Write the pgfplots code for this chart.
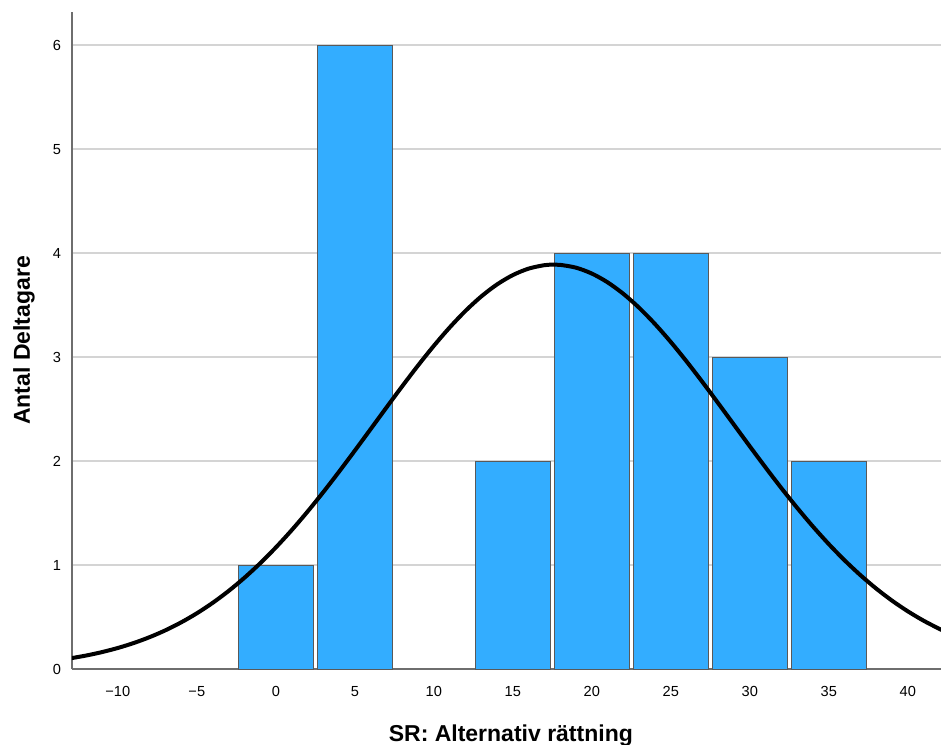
\documentclass[border=0pt]{standalone}
\usepackage{fontspec}
\setmainfont{Liberation Sans}
\usepackage{pgfplots}
\pgfplotsset{compat=1.18}
\definecolor{barblue}{RGB}{51,173,255}
\definecolor{gridgray}{RGB}{212,212,212}
\definecolor{axisgray}{RGB}{110,110,110}
\begin{document}
\begin{tikzpicture}
\begin{axis}[
  scale only axis, width=434.5pt, height=328.5pt,
  xmin=-12.9, xmax=42.1, ymin=0, ymax=6.32,
  axis x line*=bottom, axis y line*=left,
  axis line style={axisgray, line width=0.8pt, -},
  xtick={-10,-5,...,40},
  xticklabels={−10,−5,0,5,10,15,20,25,30,35,40},
  ytick={0,...,6},
  major tick length=0pt,
  ymajorgrids, grid style={gridgray, line width=0.8pt},
  tick label style={font=\fontsize{7.3}{8}\selectfont},
  xticklabel style={yshift=-5pt},
  yticklabel style={xshift=-2pt},
  /pgf/number format/assume math mode=true,
  xlabel={SR: Alternativ rättning}, ylabel={Antal Deltagare},
  label style={font=\bfseries\fontsize{11.5}{13}\selectfont},
  xlabel style={at={(axis description cs:0.505,0)}, anchor=center, yshift=-33.5pt},
  ylabel style={at={(axis description cs:0,0.5)}, anchor=center, yshift=24pt},
]
\addplot[ybar, bar width=4.75, fill=barblue, draw=black!65, line width=0.5pt]
  coordinates {(0,1) (5,6) (15,2) (20,4) (25,4) (30,3) (35,2)};
\addplot[black, line width=2pt, smooth] coordinates {
(-13,0.1027) (-12,0.1298) (-11,0.1626) (-10,0.2022) (-9,0.2496) (-8,0.3057)
(-7,0.3714) (-6,0.4479) (-5,0.5357) (-4,0.6360) (-3,0.7492) (-2,0.8758)
(-1,1.0158) (0,1.1690) (1,1.3349) (2,1.5126) (3,1.7007) (4,1.8975)
(5,2.1006) (6,2.3074) (7,2.5150) (8,2.7201) (9,2.9192) (10,3.1087)
(11,3.2848) (12,3.4442) (13,3.5834) (14,3.6992) (15,3.7892) (16,3.8515)
(17,3.8846) (17.6,3.8900) (18,3.8876) (19,3.8605) (20,3.8040) (21,3.7193)
(22,3.6084) (23,3.4737) (24,3.3182) (25,3.1451) (26,2.9582) (27,2.7607)
(28,2.5564) (29,2.3490) (30,2.1417) (31,1.9377) (32,1.7395) (33,1.5496)
(34,1.3696) (35,1.2012) (36,1.0453) (37,0.9028) (38,0.7735) (39,0.6576)
(40,0.5549) (41,0.4644) (42,0.3858) (42.2,0.3720)};
\coordinate (bl) at (rel axis cs:0,0);
\coordinate (tr) at (rel axis cs:1,1);
\end{axis}
\pgfresetboundingbox
\path[use as bounding box] ([shift={(-36pt,-37.5pt)}]bl) rectangle ([shift={(0pt,6pt)}]tr);
\end{tikzpicture}
\end{document}
